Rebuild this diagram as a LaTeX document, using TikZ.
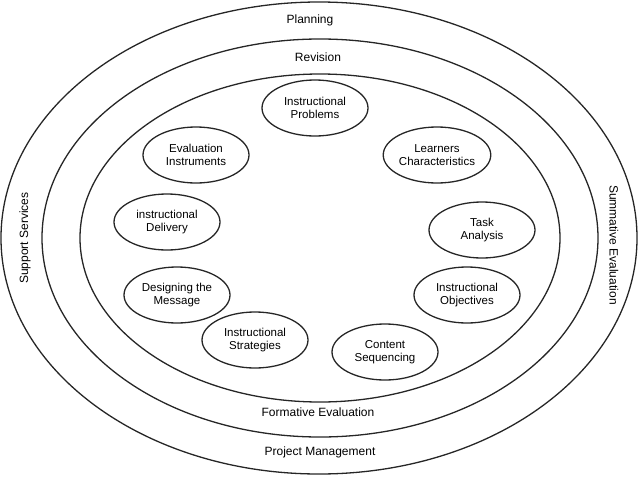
\documentclass[tikz,border=0pt]{standalone}
\usepackage{fontspec}
\setmainfont{Liberation Sans}
\usetikzlibrary{shapes.geometric}
\begin{document}
\begin{tikzpicture}[x=1pt,y=-1pt,
  ring/.style={draw=black!85,line width=1.3pt},
  item/.style={ellipse,draw=black!85,line width=1.3pt,minimum width=106pt,minimum height=56pt,inner sep=0pt,align=center,font=\fontsize{11.5}{12.5}\selectfont,fill=white},
  lab/.style={font=\fontsize{12}{13}\selectfont}]
\useasboundingbox (0,0) rectangle (640,477);
\draw[ring] (319,238) ellipse [x radius=318, y radius=236];
\draw[ring] (320,238) ellipse [x radius=278, y radius=199];
\draw[ring] (320,238) ellipse [x radius=240, y radius=164];
\node[lab] (planning) at (310,20) {Planning};
\node[lab] (revision) at (318,57) {Revision};
\node[lab] (formative) at (318,412) {Formative Evaluation};
\node[lab] (pm) at (320,452) {Project Management};
\node[lab,rotate=90] (support) at (25,238) {Support Services};
\node[lab,rotate=-90] (summative) at (614,245) {Summative Evaluation};
\node[item] (p) at (315,108) {Instructional\\Problems};
\node[item] (lc) at (437,155) {Learners\\Characteristics};
\node[item] (ta) at (482,230) {Task\\Analysis};
\node[item] (io) at (467,295) {Instructional\\Objectives};
\node[item] (cs) at (385,352) {Content\\Sequencing};
\node[item] (is) at (255,340) {Instructional\\Strategies};
\node[item] (dm) at (177,295) {Designing the\\Message};
\node[item] (id) at (167,222) {instructional\\Delivery};
\node[item] (ei) at (196,155) {Evaluation\\Instruments};
\end{tikzpicture}
\end{document}
